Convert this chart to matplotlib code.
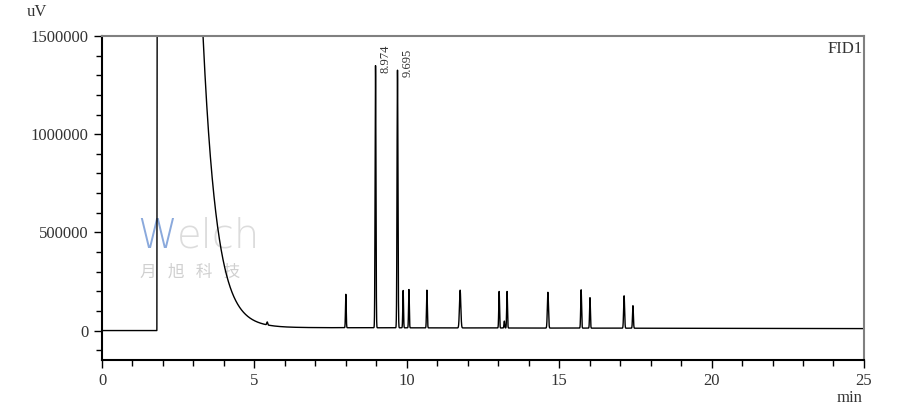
import numpy as np
import matplotlib
matplotlib.use('Agg')
from matplotlib import pyplot as plt
from matplotlib.ticker import MultipleLocator, FuncFormatter

# peak table (min, uV above baseline, sigma in min)
peak_times = [5.42, 8.00, 8.974, 9.695, 9.88, 10.07, 10.66, 11.75, 13.03, 13.20, 13.29, 14.63, 15.72, 16.01, 17.13, 17.42]
peak_heights = [15000, 170000, 1335000, 1312000, 190000, 195000, 192000, 192000, 186000, 35000, 186000, 182000, 195000, 155000, 165000, 115000]
peak_widths = [0.015, 0.012, 0.014, 0.015, 0.012, 0.012, 0.013, 0.022, 0.013, 0.012, 0.013, 0.018, 0.014, 0.013, 0.016, 0.014]
labelled = ['8.974', '9.695']

# solvent peak: start, time it drops back through 1500000, tail constant
solvent_start = 1.80
solvent_cross = 3.31
solvent_tau = 0.45
baseline_before = 0
baseline_after = [16000, 10000]  # at solvent start and 25 min

t = np.linspace(0, 25, 25001)
y = np.full_like(t, float(baseline_before))
after = t >= solvent_start
y[after] = np.interp(t[after], [solvent_start, 25], baseline_after)
tail = 1.5e6 * np.exp(-(t - solvent_cross) / solvent_tau)
rise = np.clip((t - solvent_start) / 0.03, 0, 1)
y = y + np.where(after, rise * np.minimum(tail, 5e6), 0)
for tp, hp, wp in zip(peak_times, peak_heights, peak_widths):
    y = y + hp * np.exp(-0.5 * ((t - tp) / wp) ** 2)

serif = 'Liberation Serif'
txt = '#333333'

fig = plt.figure(figsize=(9.06, 4.12), dpi=100)
ax = fig.add_axes([0.1126, 0.1262, 0.841, 0.7864])
ax.plot(t, y, color='black', lw=1.0)
ax.set_xlim(0, 25)
ax.set_ylim(-150000, 1500000)

ax.xaxis.set_major_locator(MultipleLocator(5))
ax.xaxis.set_minor_locator(MultipleLocator(1))
ax.set_yticks([0, 500000, 1000000, 1500000])
ax.yaxis.set_major_formatter(FuncFormatter(lambda v, p: '%d' % v))
ax.yaxis.set_minor_locator(MultipleLocator(100000))
ax.tick_params(which='major', length=6, width=1, colors='black', labelcolor=txt, labelsize=12)
ax.tick_params(which='minor', length=4, width=1, colors='black')
for lab in ax.get_xticklabels() + ax.get_yticklabels():
    lab.set_family(serif)

for side in ['top', 'right']:
    ax.spines[side].set_color('#808080')
    ax.spines[side].set_linewidth(1.5)
for side in ['left', 'bottom']:
    ax.spines[side].set_linewidth(1.5)

fig.text(0.030, 0.972, 'uV', family=serif, fontsize=12, color=txt, va='center')
fig.text(0.952, 0.035, 'min', family=serif, fontsize=12, color=txt, ha='right', va='center')
ax.text(0.998, 0.985, 'FID1', transform=ax.transAxes, family=serif, fontsize=12,
        color=txt, ha='right', va='top')

for tp, hp in zip(peak_times, peak_heights):
    name = '%.3f' % tp
    if name in labelled:
        ax.annotate(name, xy=(tp, hp), xytext=(7, -3), textcoords='offset points',
                    rotation=90, ha='center', va='bottom', family=serif,
                    fontsize=9, color=txt)

# watermark
ax.text(1.15, 480000, 'W', fontsize=29, color='#8aa9dc', family='DejaVu Sans',
        fontweight='light', va='center', ha='left', zorder=0)
ax.text(2.45, 480000, 'elch', fontsize=29, color='#dcdcdc', family='DejaVu Sans',
        fontweight='light', va='center', ha='left', zorder=0)
ax.text(1.25, 300000, '月   旭   科   技', fontsize=12, color='#d0d0d0',
        family=['Noto Sans CJK SC', 'DejaVu Sans'], va='center', ha='left', zorder=0)

fig.savefig('out.png', dpi=100)
